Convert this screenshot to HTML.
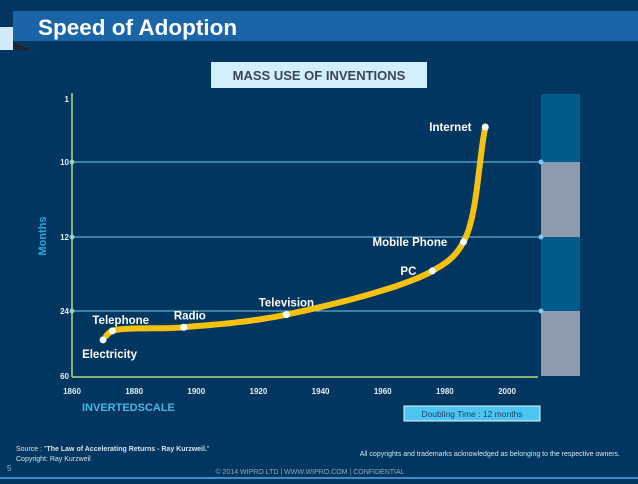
<!DOCTYPE html>
<html><head><meta charset="utf-8"><style>
body{margin:0;width:638px;height:479px;overflow:hidden;background:#00365f;font-family:"Liberation Sans",sans-serif}
</style></head><body>
<svg width="638" height="479" xmlns="http://www.w3.org/2000/svg" style="font-family:'Liberation Sans',sans-serif">
<rect x="0" y="0" width="638" height="479" fill="#00365f"/>
<polygon points="0,27 13,27 13,41 33,50 0,50" fill="#cfeafa"/>
<polygon points="13,41 33,50 13,50" fill="#1c2433"/>
<rect x="13" y="11" width="625" height="30" fill="#1a64a8"/>
<text x="38" y="35" font-size="22.5" font-weight="bold" fill="#fff">Speed of Adoption</text>
<rect x="211" y="62" width="216" height="26" fill="#d2eefb"/>
<text x="319" y="80" font-size="13" font-weight="bold" fill="#3a4656" text-anchor="middle">MASS USE OF INVENTIONS</text>
<g id="bars"></g>
<g id="grid"></g>
<line x1="72" y1="93" x2="72" y2="377" stroke="#b8dc7a" stroke-width="1.5"/>
<line x1="72" y1="377" x2="538" y2="377" stroke="#b8dc7a" stroke-width="1.5"/>
<g id="yticks"></g><g id="xticks"></g>
<path id="curve" fill="none" stroke="#f6c20f" stroke-width="6" stroke-linecap="round" stroke-linejoin="round"/>
<g id="points"></g>
<text x="46" y="236" font-size="11" font-weight="bold" fill="#2aa8e0" text-anchor="middle" transform="rotate(-90 46 236)">Months</text>
<text x="82" y="411" font-size="11" font-weight="bold" fill="#45b6e8">INVERTEDSCALE</text>
<rect x="404" y="406" width="136" height="15" fill="#4cc6f0" stroke="#e0f4fc" stroke-width="1"/>
<text x="472" y="417" font-size="8.5" fill="#1a3f66" text-anchor="middle">Doubling Time : 12 months</text>
<text x="16" y="451" font-size="7" fill="#d8e4ee">Source : "<tspan font-weight="bold">The Law of Accelerating Returns - Ray Kurzweil.</tspan>"</text>
<text x="16" y="461" font-size="7" fill="#d8e4ee">Copyright: Ray Kurzweil</text>
<text x="620" y="456" font-size="7" fill="#d8e4ee" text-anchor="end">All copyrights and trademarks acknowledged as belonging to the respective owners.</text>
<text x="7" y="471" font-size="8" fill="#8fb4d4">5</text>
<text x="310" y="474" font-size="7" fill="#8fa8c0" text-anchor="middle">© 2014  WIPRO LTD  |  WWW.WIPRO.COM  |  CONFIDENTIAL</text>
<rect x="0" y="477" width="638" height="2" fill="#3a8cc8"/>
</svg>
<script>
const yTicks=[1,10,12,24,60];
const xTicks=[1860,1880,1900,1920,1940,1960,1980,2000];
const names=["Electricity","Telephone","Radio","Television","PC","Mobile Phone","Internet"];
const years=[1870,1873,1896,1929,1976,1986,1993];
const months=[40,35,33,26,17.5,12.8,5];
const NS="http://www.w3.org/2000/svg";
const tickPos=[99,162,237,311,376];
function xs(v){return 72+(v-1860)*(435/140);}
function ys(v){for(let i=0;i<yTicks.length-1;i++){if(v<=yTicks[i+1]){return tickPos[i]+(v-yTicks[i])/(yTicks[i+1]-yTicks[i])*(tickPos[i+1]-tickPos[i]);}}return tickPos[tickPos.length-1];}
function mk(t,a,p){const e=document.createElementNS(NS,t);for(const k in a)e.setAttribute(k,a[k]);(p||document.querySelector('svg')).appendChild(e);return e;}
const bars=document.getElementById('bars');
const bandCols=["#005a8a","#8c9cae","#005a8a","#8c9cae"];
for(let i=0;i<4;i++){const top=i==0?94:ys(yTicks[i]);const b=mk('rect',{x:541,y:top,width:39,height:ys(yTicks[i+1])-top,fill:bandCols[i]},bars);

}
const grid=document.getElementById('grid');
[10,12,24].forEach(v=>{const y=ys(v);const l=mk('line',{x1:72,y1:y,x2:541,y2:y,stroke:'#7cc8ee','stroke-width':1},grid);


[72,541].forEach(x=>{const c=mk('circle',{cx:x,cy:y,r:2.5,fill:'#7cc8ee'},grid);

});});
const yt=document.getElementById('yticks');
yTicks.forEach(v=>{const t=mk('text',{x:69,y:ys(v)+3,'font-size':8,'font-weight':'bold',fill:'#e6eef4','text-anchor':'end'},yt);t.textContent=v;

});
const xt=document.getElementById('xticks');
xTicks.forEach(v=>{const t=mk('text',{x:xs(v),y:394,'font-size':8,'font-weight':'bold',fill:'#e6eef4','text-anchor':'middle'},xt);t.textContent=v;

});
const P=years.map((y,i)=>[xs(y),ys(months[i])]);
const pts=[[P[0][0]+3,P[0][1]-4],...P.slice(1)];
// centripetal catmull-rom sampling
function dist(a,b){return Math.sqrt(Math.hypot(a[0]-b[0],a[1]-b[1]))||1e-3;}
const ext=[[2*pts[0][0]-pts[1][0],2*pts[0][1]-pts[1][1]],...pts,[2*pts[pts.length-1][0]-pts[pts.length-2][0],2*pts[pts.length-1][1]-pts[pts.length-2][1]]];
let d="M"+pts[0][0]+","+pts[0][1];
for(let i=1;i<ext.length-2;i++){const p0=ext[i-1],p1=ext[i],p2=ext[i+1],p3=ext[i+2];
const t0=0,t1=t0+dist(p0,p1),t2=t1+dist(p1,p2),t3=t2+dist(p2,p3);
for(let s=1;s<=20;s++){const t=t1+(t2-t1)*s/20;const L=(a,b,ta,tb)=>[0,1].map(k=>((tb-t)*a[k]+(t-ta)*b[k])/(tb-ta));
const A1=L(p0,p1,t0,t1),A2=L(p1,p2,t1,t2),A3=L(p2,p3,t2,t3);const B1=L(A1,A2,t0,t2),B2=L(A2,A3,t1,t3);const C=L(B1,B2,t1,t2);
d+=" L"+C[0].toFixed(1)+","+C[1].toFixed(1);}}
document.getElementById('curve').setAttribute('d',d);
const lbl=[[-21,18,'start'],[-20,-7,'start'],[-10,-8,'start'],[0,-8,'middle'],[-32,4,'start'],[-91,4,'start'],[-56,4,'start']];
const gp=document.getElementById('points');
P.forEach((p,i)=>{const c=mk('circle',{cx:p[0],cy:p[1],r:3.5,fill:'#fff'},gp);


const t=mk('text',{x:p[0]+lbl[i][0],y:p[1]+lbl[i][1],'font-size':11.5,'font-weight':'bold',fill:'#fff','text-anchor':lbl[i][2]},gp);t.textContent=names[i];

});
</script>
</body></html>
